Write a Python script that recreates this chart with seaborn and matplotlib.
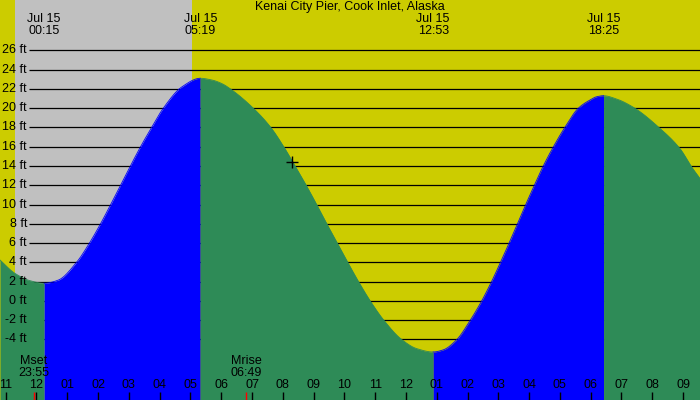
import matplotlib
matplotlib.use("Agg")
import matplotlib.pyplot as plt
import seaborn as sns
import pandas as pd
import numpy as np

# ---------------- data ----------------
title = "Kenai City Pier, Cook Inlet, Alaska"

# tide height readings: hours after Jul 15 00:00, feet
tide_hours = [-1.185, -0.70, -0.21, 0.25, 0.70, 1.30, 1.72, 2.08, 2.41, 2.73,
              3.05, 3.38, 3.74, 4.12, 4.72, 5.317, 5.70, 6.02, 6.34,
              7.04, 7.61, 8.03, 8.40, 8.76, 9.10, 9.43, 9.77, 10.11, 10.46,
              10.84, 11.28, 11.86, 12.35, 12.883, 13.21, 13.64, 14.09, 14.46, 14.78,
              15.07, 15.35, 15.62, 15.89, 16.17, 16.46, 16.79, 17.16, 17.60, 17.98,
              18.19, 18.417, 18.84, 19.38, 20.25, 20.90, 21.30, 21.55]
tide_ft = [4.24, 2.86, 2.10, 1.83, 2.15, 4.0, 6.0, 8.0, 10.0, 12.0,
           14.0, 16.0, 18.0, 20.0, 22.2, 23.1, 22.92, 22.55, 21.9,
           20.0, 18.0, 16.0, 14.0, 12.0, 10.0, 8.0, 6.0, 4.0, 2.0,
           0.0, -2.0, -4.0, -4.95, -5.3, -5.08, -4.05, -2.0, 0.0, 2.0,
           4.0, 6.0, 8.0, 10.0, 12.0, 14.0, 16.0, 18.0, 20.0, 20.85,
           21.18, 21.29, 20.95, 20.1, 17.9, 15.8, 13.8, 12.7]

# tide extremes (low, high, low, high)
extreme_hours = [0.25, 5.317, 12.883, 18.417]
extreme_labels = ["Jul 15\n00:15", "Jul 15\n05:19", "Jul 15\n12:53", "Jul 15\n18:25"]

# night (sunset previous evening -> sunrise)
sunset_hour = -0.70
sunrise_hour = 5.05

# moon events
moon_hours = [-0.083, 6.817]
moon_labels = ["Mset\n23:55", "Mrise\n06:49"]

# hour axis
hour_ticks = list(range(-1, 22))
hour_labels = ["11", "12", "01", "02", "03", "04", "05", "06", "07", "08", "09", "10",
               "11", "12", "01", "02", "03", "04", "05", "06", "07", "08", "09"]

# height grid
ft_levels = list(range(-4, 27, 2))
ft_labels = [f"{v} ft" for v in ft_levels]

# ---------------- styling ----------------
YELLOW = "#CCCC00"
GRAY = "#C0C0C0"
BLUE = "#0000FF"
GREEN = "#2E8B57"

W, H = 700, 400
X0, X1 = -1.185, 21.55
Y_TOP, Y_BOT = 31.22, -10.28

plt.rcParams["font.family"] = ["Liberation Sans", "DejaVu Sans"]
FS = 9


def smooth_curve(x, y, xn):
    """Monotone cubic (Fritsch-Carlson) rendering through the read points."""
    x = np.asarray(x, float)
    y = np.asarray(y, float)
    h = np.diff(x)
    d = np.diff(y) / h
    m = np.zeros_like(y)
    for k in range(1, len(x) - 1):
        if d[k - 1] * d[k] <= 0:
            m[k] = 0.0
        else:
            w1 = 2 * h[k] + h[k - 1]
            w2 = h[k] + 2 * h[k - 1]
            m[k] = (w1 + w2) / (w1 / d[k - 1] + w2 / d[k])
    m[0] = d[0]
    m[-1] = d[-1]
    idx = np.clip(np.searchsorted(x, xn) - 1, 0, len(x) - 2)
    hk = h[idx]
    t = (xn - x[idx]) / hk
    h00 = 2 * t**3 - 3 * t**2 + 1
    h10 = t**3 - 2 * t**2 + t
    h01 = -2 * t**3 + 3 * t**2
    h11 = t**3 - t**2
    return h00 * y[idx] + h10 * hk * m[idx] + h01 * y[idx + 1] + h11 * hk * m[idx + 1]


fig = plt.figure(figsize=(7, 4), dpi=100)
ax = fig.add_axes([0, 0, 1, 1])


def yfrac(px):
    return 1 - px / H


def xfrac(px):
    return px / W


# background day/night
ax.axvspan(X0, X1, color=YELLOW, lw=0, zorder=0)
ax.axvspan(sunset_hour, sunrise_hour, color=GRAY, lw=0, zorder=0.5)

# grid lines (under the water)
grid_x0 = X0 + 29.3 / W * (X1 - X0)
ax.hlines(ft_levels, grid_x0, X1, colors="black", lw=0.9, zorder=1)

# tide segments: falling (green) / rising (blue)
fine_t = np.unique(np.concatenate([np.linspace(tide_hours[0], tide_hours[-1], 1400),
                                   np.array(extreme_hours)]))
fine_h = smooth_curve(tide_hours, tide_ft, fine_t)
bounds = [X0 - 1] + extreme_hours + [X1 + 1]
rows = []
for i in range(len(bounds) - 1):
    a, b = bounds[i], bounds[i + 1]
    m = (fine_t >= a - 1e-9) & (fine_t <= b + 1e-9)
    phase = "falling" if i % 2 == 0 else "rising"
    col = GREEN if phase == "falling" else BLUE
    ax.fill_between(fine_t[m], fine_h[m], Y_BOT, color=col, lw=0, zorder=2)
    for t, hh in zip(fine_t[m], fine_h[m]):
        rows.append({"hour": t, "ft": hh, "phase": phase, "seg": i})
df = pd.DataFrame(rows)
sns.lineplot(data=df, x="hour", y="ft", hue="phase", units="seg", estimator=None,
             palette={"falling": GREEN, "rising": BLUE}, lw=0.6, legend=False,
             ax=ax, zorder=2.5)
ax.set_xlim(X0, X1)
ax.set_ylim(Y_BOT, Y_TOP)
ax.axis("off")

# y labels
for v, lab in zip(ft_levels, ft_labels):
    ax.text(xfrac(27), v, lab, transform=ax.get_yaxis_transform(), ha="right",
            va="center", fontsize=FS, color="black", zorder=5)

# title and extreme labels
ax.text(0.5, yfrac(7), title, transform=ax.transAxes, ha="center", va="center",
        fontsize=FS, zorder=5)
xt = ax.get_xaxis_transform()
for t, lab in zip(extreme_hours, extreme_labels):
    ax.text(t, yfrac(25.5), lab, transform=xt, ha="center", va="center",
            fontsize=FS, linespacing=1.0, zorder=5)

# moon labels
for t, lab in zip(moon_hours, moon_labels):
    ax.text(t, yfrac(367.5), lab, transform=xt, ha="center", va="center",
            fontsize=FS, linespacing=1.0, zorder=5)

# hour labels and ticks
for t, lab in zip(hour_ticks, hour_labels):
    ax.text(t, yfrac(385.5), lab, transform=xt, ha="center", va="center",
            fontsize=FS, zorder=5)
ax.vlines(hour_ticks, yfrac(400), yfrac(392), colors="black", lw=1.0,
          transform=xt, zorder=5)
ax.vlines(moon_hours, yfrac(400), yfrac(392), colors="red", lw=1.0,
          transform=xt, zorder=5)

# cursor cross seen in the reference
ax.plot([8.30], [14.41], marker="+", color="black", ms=9, mew=1.0, zorder=6)

fig.savefig("out.png", dpi=100)
